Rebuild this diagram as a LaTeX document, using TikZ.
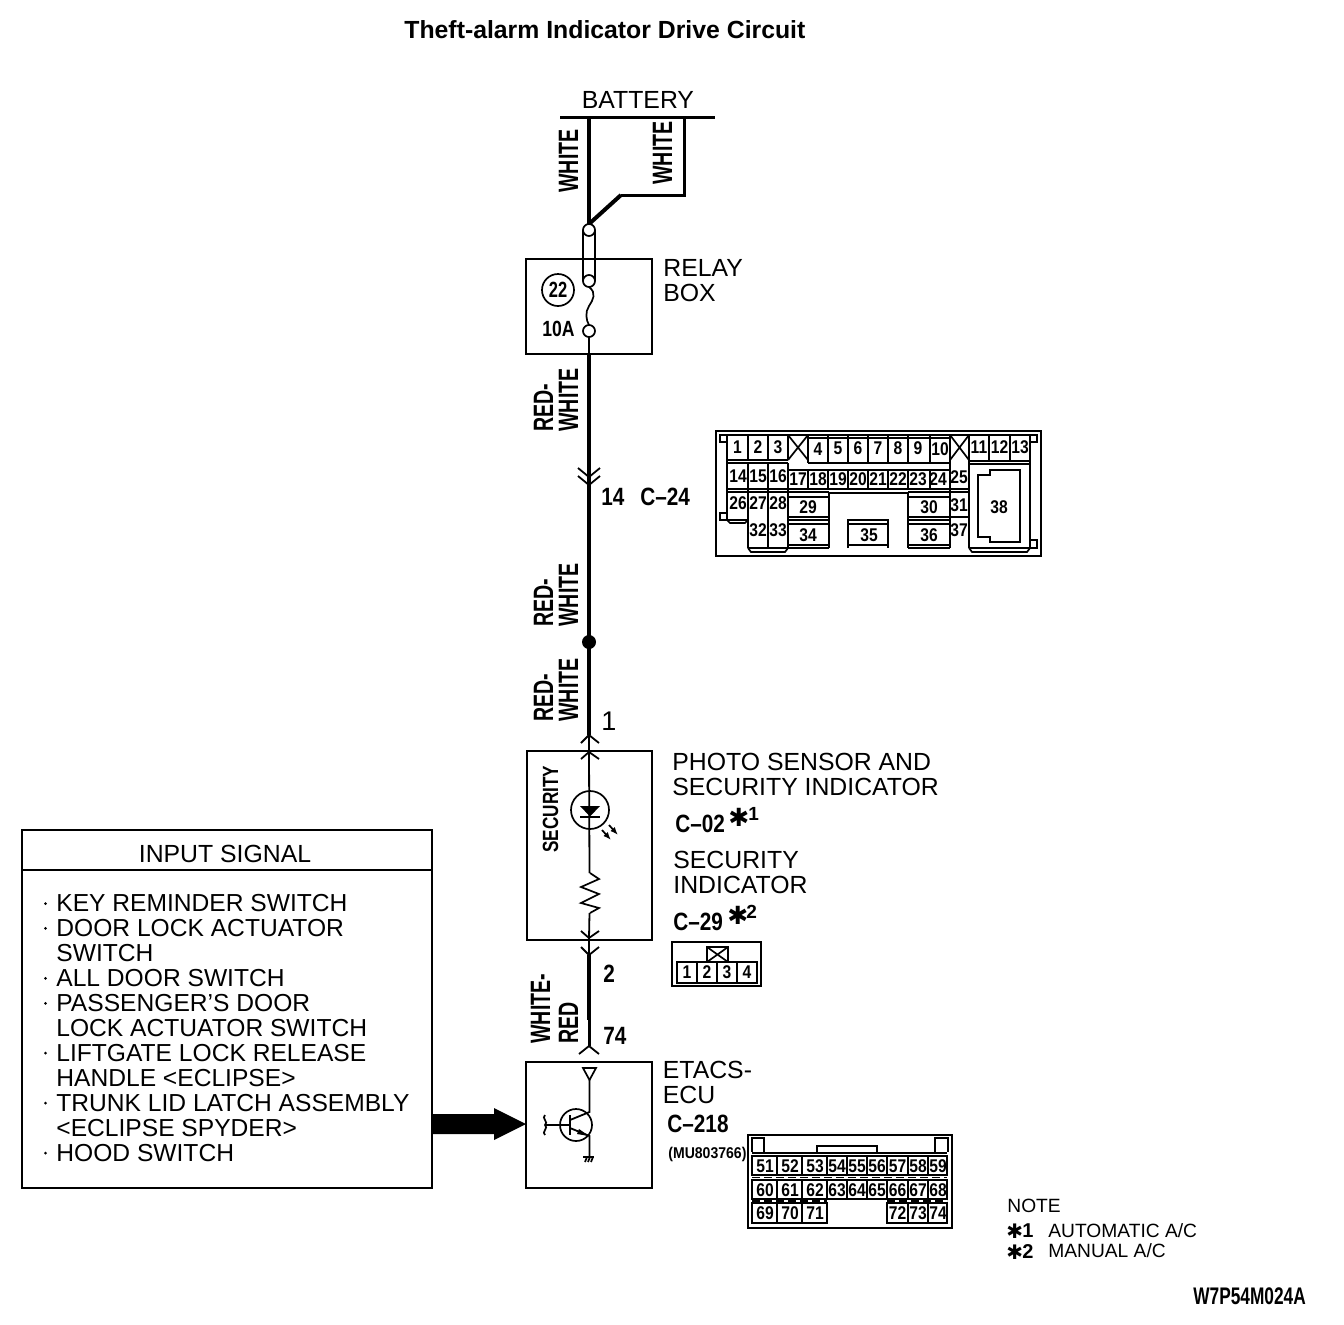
\documentclass[tikz,border=0pt]{standalone}
\usepackage{fontspec}
\usepackage{graphicx}
\setmainfont{Liberation Sans}
\newfontfamily\djv{DejaVu Sans}
\usetikzlibrary{arrows.meta}
\newcommand{\cnd}[2][0.7]{\scalebox{#1}[1]{#2}}
\tikzset{
  txt/.style={inner sep=0pt,anchor=base west,font=\fontsize{12.4}{12.4}\selectfont},
  inlist/.style={inner sep=0pt,anchor=base west,font=\fontsize{12.3}{12.3}\selectfont},
  ttl/.style={inner sep=0pt,anchor=base west,font=\bfseries\fontsize{12.4}{12.4}\selectfont},
  note/.style={inner sep=0pt,anchor=base west,font=\fontsize{9.6}{9.6}\selectfont},
  wlab/.style={inner sep=0pt,anchor=base west,rotate=90,font=\bfseries\fontsize{14}{14}\selectfont},
  clab/.style={inner sep=0pt,anchor=base west,font=\bfseries\fontsize{12.5}{12.5}\selectfont},
  pin/.style={inner sep=0pt,font=\bfseries\fontsize{9.2}{9.2}\selectfont},
  wire/.style={line width=2pt,line join=miter},
  thinw/.style={line width=1pt},
  bx/.style={line width=1pt},
  cl/.style={line width=0.85pt},
  chev/.style={line width=0.9pt},
}
\begin{document}
\begin{tikzpicture}[x=0.5pt,y=-0.5pt]
\useasboundingbox (0,0) rectangle (1344,1324);
% title
\node[ttl] (title) at (404,38) {Theft-alarm Indicator Drive Circuit};
% named wire points
\coordinate (batL) at (560,117);
\coordinate (batR) at (715,117);
\coordinate (w0) at (589,117);
\coordinate (w1) at (589,224);
\coordinate (b0) at (684,117);
\coordinate (b1) at (684,195);
\coordinate (b2) at (621,195);
\coordinate (f1) at (589,230);
\coordinate (f2) at (589,281);
\coordinate (f3) at (589,331);
\coordinate (dot) at (589,642);
\coordinate (s1) at (589,735);
\coordinate (s2) at (589,752);
\coordinate (s3) at (589,938);
\coordinate (s4) at (589,955);
\coordinate (s5) at (589,1020);
\coordinate (s6) at (589,1046);
% battery
\node[txt] (battery) at (581.5,108) {BATTERY};
\draw[line width=1.5pt] (batL) -- (batR);
\draw[wire] (w0) -- (w1);
\draw[line width=1.5pt] (b0) -- (b1) -- (b2);
\draw[wire] (b2) -- (w1);
\node[wlab] (wl1) at (578,193) {\cnd{WHITE}};
\node[wlab] (wl2) at (672,185) {\cnd{WHITE}};
% relay box
\draw[bx] (526,259) rectangle (652,354);
\node[txt] (relay) at (663,276) {RELAY};
\node[txt] (box) at (663,301) {BOX};
\draw[cl] (583,230) -- (583,281) (595,230) -- (595,281);
\draw[cl,fill=white] (f1) circle[radius=6];
\draw[cl,fill=white] (f2) circle[radius=6];
\draw[cl,fill=white] (f3) circle[radius=6];
\draw[cl] (589,287) .. controls (597,293) and (593,300) .. (589,306) .. controls (585,312) and (586,320) .. (589,325);
\draw[cl] (558,290) circle[radius=16];
\node[pin,font=\bfseries\fontsize{11}{11}\selectfont] (n22) at (558,290) {\cnd[0.75]{22}};
\node[clab,font=\bfseries\fontsize{11}{11}\selectfont] (amp) at (542,336) {\cnd[0.8]{10A}};
% wire relay -> security
\draw[thinw] (589,337) -- (589,354);
\draw[wire] (589,354) -- (dot);
\draw[wire] (dot) -- (s1);
\fill (dot) circle[radius=7];
\draw[chev] (578,468) -- (589,477) -- (600,468);
\draw[chev] (578,476) -- (589,485) -- (600,476);
\node[clab] (n14) at (601,505) {\cnd[0.83]{14}};
\node[clab] (c24) at (640,505) {\cnd[0.83]{C--24}};
\foreach \yy/\nm in {432/a,627/b,722/c}{
  \node[wlab] (red\nm) at (553,\yy) {\cnd{RED-}};
  \node[wlab] (wht\nm) at (578,\yy) {\cnd{WHITE}};
}
\node[clab,font=\fontsize{13.5}{13.5}\selectfont] (n1) at (601,730) {1};
% connector C-24
\draw[bx] (716,431) rectangle (1041,556);
\draw[cl] (727,520) -- (727,435) -- (1030,435) -- (1030,548);
\draw[cl] (727,435) -- (720,435) -- (720,442) -- (727,442);
\draw[cl] (1030,435) -- (1037,435) -- (1037,442) -- (1030,442);
\draw[cl] (727,513) -- (720,513) -- (720,520) -- (727,520);
\draw[cl] (1030,540) -- (1037,540) -- (1037,548) -- (1030,548);
\draw[cl] (808,438) -- (950,438);
\draw[cl] (727,460) -- (788,460) (727,463) -- (788,463);
\draw[cl] (808,463) -- (950,463) (969,461) -- (1030,461) (969,464) -- (1030,464);
\draw[cl] (788,470) -- (950,470);
\draw[cl] (727,489) -- (969,489);
\draw[cl] (727,492) -- (829,492) (829,493) -- (908,493) (908,492) -- (969,492);
\foreach \xx in {748,768,788}{\draw[cl] (\xx,435) -- (\xx,460) (\xx,463) -- (\xx,548);}
\foreach \xx in {808,828,848,868,888,908,930,950}{\draw[cl] (\xx,435) -- (\xx,463) (\xx,470) -- (\xx,489);}
\draw[cl] (950,463) -- (950,548) (969,435) -- (969,548);
\foreach \xx in {989,1010}{\draw[cl] (\xx,435) -- (\xx,461);}
\draw[cl] (788,435) -- (808,460) (808,435) -- (788,460);
\draw[cl] (950,435) -- (969,460) (969,435) -- (950,460);
\draw[cl] (748,548) -- (751,552) -- (785,552) -- (788,548) (748,548) -- (788,548);
\draw[cl] (727,520) -- (730,523) -- (745,523) -- (748,520) (727,520) -- (748,520);
\draw[cl] (788,497) -- (829,497);
\draw[cl] (829,492) -- (829,548) (908,492) -- (908,548);
\draw[cl] (788,545) -- (829,545) (788,548) -- (829,548);
\draw[cl] (908,545) -- (950,545) (908,548) -- (950,548);
\draw[cl] (788,517) -- (829,517) (788,520) -- (829,520) (788,524) -- (829,524);
\draw[cl] (848,548) -- (848,520) -- (888,520) -- (888,548);
\draw[cl] (848,524) -- (888,524) (848,545) -- (888,545);
\draw[cl] (908,497) -- (950,497);
\draw[cl] (908,517) -- (950,517) (908,520) -- (950,520) (908,524) -- (950,524);
\draw[cl] (950,517) -- (969,517);
\draw[cl] (969,548) -- (972,552) -- (1027,552) -- (1030,548) (969,548) -- (1030,548);
\draw[line width=0.9pt] (978,475) -- (990,475) -- (990,470) -- (1020,470) -- (1020,542) -- (990,542) -- (990,537) -- (978,537) -- cycle;
\foreach \t/\x/\y in {1/737.5/447,2/758/447,3/778/447,4/818/449,5/838/448,6/858/448,7/878/448,8/898/448,9/918/448,10/940/449,11/979/447,12/999.5/447,13/1020/447,
 14/738/476,15/758/476,16/778/476,17/798/479,18/818/479,19/838/479,20/858/479,21/878/479,22/898/479,23/918/479,24/938/479,25/959/477,
 26/738/503,27/758/503,28/778/503,29/808/507,30/929/507,31/959/505,38/999/507,
 32/758/530,33/778/530,34/808/535,35/869/535,36/929/535,37/959/530}{
  \node[pin] (p\t) at (\x,\y) {\cnd[0.85]{\t}};
}
% security box
\draw[bx] (527,751) rectangle (652,940);
\draw[chev] (581,743) -- (s1) -- (599,743);
\draw[chev] (581,759) -- (s2) -- (599,759);
\draw[thinw] (s1) -- (s2);
\draw[line width=0.9pt] (s2) -- (589.5,873);
\draw[line width=0.9pt] (589.5,913) -- (s3);
\draw[cl] (590,873) -- (599,879) -- (581,887) -- (599,894) -- (581,903) -- (599,908) -- (590,913);
\draw[cl] (590,810) circle[radius=19];
\fill (580,806) -- (600,806) -- (590,816.5) -- cycle;
\draw[cl] (580,817) -- (600,817);
\draw[cl,-{Latex[length=4pt,width=3pt]}] (602,830) -- (611,840);
\draw[cl,-{Latex[length=4pt,width=3pt]}] (609,825) -- (618,835);
\node[inner sep=0pt,anchor=base west,rotate=90,font=\bfseries\fontsize{11}{11}\selectfont] (sec) at (558,853) {\cnd[0.78]{SECURITY}};
\draw[chev] (581,931) -- (s3) -- (599,931);
\draw[chev] (581,947) -- (s4) -- (599,947);
\draw[thinw] (s3) -- (s4);
\draw[wire] (s4) -- (s5);
\draw[line width=1.5pt] (s5) -- (s6);
\node[clab] (n2) at (603,982) {\cnd[0.83]{2}};
\node[clab] (n74) at (603,1044) {\cnd[0.83]{74}};
\node[wlab] (wrw) at (550,1044) {\cnd{WHITE-}};
\node[wlab] (wrr) at (578,1044) {\cnd{RED}};
% security labels
\node[txt] (ph1) at (672,770) {PHOTO SENSOR AND};
\node[txt] (ph2) at (672,795) {SECURITY INDICATOR};
\node[clab] (c02) at (675,832) {\cnd[0.83]{C--02}};
\node[inner sep=0pt,anchor=base west,font=\djv\fontsize{12.5}{12.5}\selectfont] (st1) at (728,826) {✱};
\node[inner sep=0pt,anchor=base west,font=\bfseries\fontsize{9.5}{9.5}\selectfont] (s1n) at (748,820) {1};
\node[txt] (si1) at (673,868) {SECURITY};
\node[txt] (si2) at (673,893) {INDICATOR};
\node[clab] (c29) at (673,930) {\cnd[0.83]{C--29}};
\node[inner sep=0pt,anchor=base west,font=\djv\fontsize{12.5}{12.5}\selectfont] (st2) at (727,924) {✱};
\node[inner sep=0pt,anchor=base west,font=\bfseries\fontsize{9.5}{9.5}\selectfont] (s2n) at (746,918) {2};
% connector C-02
\draw[bx] (672,942) rectangle (761,986);
\draw[cl] (677,962) rectangle (757,983);
\foreach \xx in {697,717,737}{\draw[cl] (\xx,962) -- (\xx,983);}
\draw[cl] (707,947) rectangle (728,962);
\draw[cl] (707,947) -- (728,962) (728,947) -- (707,962);
\foreach \t/\x in {1/687,2/707,3/727,4/747}{\node[pin] (q\t) at (\x,972.5) {\cnd[0.85]{\t}};}
% input signal
\draw[bx] (22,830) rectangle (432,1188);
\draw[line width=0.7pt] (22,870) -- (432,870);
\node[txt,anchor=base] (inp) at (225,862) {INPUT SIGNAL};
\foreach \k/\t/\b in {0/KEY REMINDER SWITCH/1,1/DOOR LOCK ACTUATOR/1,2/SWITCH/0,3/ALL DOOR SWITCH/1,4/PASSENGER'S DOOR/1,5/LOCK ACTUATOR SWITCH/0,6/LIFTGATE LOCK RELEASE/1,7/HANDLE <ECLIPSE>/0,8/TRUNK LID LATCH ASSEMBLY/1,9/<ECLIPSE SPYDER>/0,10/HOOD SWITCH/1}{
  \pgfmathsetmacro{\yy}{911.5+24.95*\k}
  \node[inlist] (i\k) at (56,\yy) {\t};
  \ifnum\b=1 \fill (45.5,\yy-8) circle[radius=1.5];\fi
}
\fill (432,1114) -- (494,1114) -- (494,1108) -- (526,1124) -- (494,1140) -- (494,1134) -- (432,1134) -- cycle;
% etacs box
\draw[bx] (526,1062) rectangle (652,1188);
\draw[chev] (579,1054) -- (s6) -- (599,1054);
\draw[cl] (583,1068) -- (596,1068) -- (589.5,1080) -- cycle;
\draw[line width=0.9pt] (589.5,1080) -- (589.5,1112) -- (570,1120);
\draw[line width=0.9pt] (570,1128) -- (589.5,1136) -- (589.5,1156);
\fill (579,1129) -- (589,1136) -- (577,1134) -- cycle;
\draw[cl] (576,1125) circle[radius=16];
\draw[line width=0.9pt] (570,1115) -- (570,1135);
\draw[line width=0.9pt] (545,1125) -- (570,1125);
\draw[cl] (545,1115) .. controls (541,1118) and (549,1122) .. (545,1125) .. controls (549,1128) and (541,1132) .. (545,1135);
\draw[line width=0.9pt] (583,1157) -- (594,1157);
\draw[cl] (585,1162) -- (587,1157) (588,1162) -- (590,1157) (591,1162) -- (593,1157);
\node[txt] (et1) at (662.5,1078) {ETACS-};
\node[txt] (et2) at (662.5,1103) {ECU};
\node[clab] (c218) at (667,1132) {\cnd[0.83]{C--218}};
\node[inner sep=0pt,anchor=base west,font=\bfseries\fontsize{7.8}{7.8}\selectfont] (mu) at (668,1158) {\cnd[0.9]{(MU803766)}};
% connector C-218
\draw[bx] (748,1135) rectangle (952,1228);
\draw[cl] (752,1152) -- (752,1138) -- (764,1138) -- (764,1152);
\draw[cl] (935,1152) -- (935,1138) -- (948,1138) -- (948,1152);
\draw[line width=0.9pt] (817,1152) -- (817,1146) -- (877,1146) -- (877,1152);
\draw[line width=1.2pt] (752,1153) -- (947,1153);
\draw[line width=0.9pt] (752,1156) rectangle (947,1175);
\draw[line width=0.9pt] (752,1180) rectangle (947,1199);
\draw[line width=0.9pt] (752,1203) rectangle (827,1223);
\draw[line width=0.9pt] (887,1203) rectangle (947,1223);
\draw[cl,dash pattern=on 4pt off 2pt] (752,1177.5) -- (947,1177.5) (752,1201) -- (827,1201) (887,1201) -- (947,1201);
\foreach \xx in {777,802,827,847,867,887,908,928}{\draw[cl] (\xx,1156) -- (\xx,1175) (\xx,1180) -- (\xx,1199);}
\foreach \xx in {777,802,908,928}{\draw[cl] (\xx,1203) -- (\xx,1223);}
\foreach \t/\x/\y in {51/765/1166,52/790/1166,53/815/1166,54/837/1166,55/857/1166,56/877/1166,57/897.5/1166,58/918/1166,59/938/1166,
 60/765/1190,61/790/1190,62/815/1190,63/837/1190,64/857/1190,65/877/1190,66/897.5/1190,67/918/1190,68/938/1190,
 69/765/1213,70/790/1213,71/815/1213,72/897.5/1213,73/918/1213,74/938/1213}{
  \node[pin] (r\t) at (\x,\y) {\cnd[0.85]{\t}};
}
% note
\node[note] (nt) at (1007,1212) {NOTE};
\node[inner sep=0pt,anchor=base west,font=\djv\fontsize{10}{10}\selectfont] (nst1) at (1006,1238) {✱};
\node[inner sep=0pt,anchor=base west,font=\bfseries\fontsize{10}{10}\selectfont] (nn1) at (1022,1237) {1};
\node[note] (nt1) at (1048,1237) {AUTOMATIC A/C};
\node[inner sep=0pt,anchor=base west,font=\djv\fontsize{10}{10}\selectfont] (nst2) at (1006,1259) {✱};
\node[inner sep=0pt,anchor=base west,font=\bfseries\fontsize{10}{10}\selectfont] (nn2) at (1022,1258) {2};
\node[note] (nt2) at (1048,1257) {MANUAL A/C};
\node[inner sep=0pt,anchor=base west,font=\bfseries\fontsize{12}{12}\selectfont] (code) at (1193,1304) {\cnd[0.72]{W7P54M024A}};
\end{tikzpicture}
\end{document}
